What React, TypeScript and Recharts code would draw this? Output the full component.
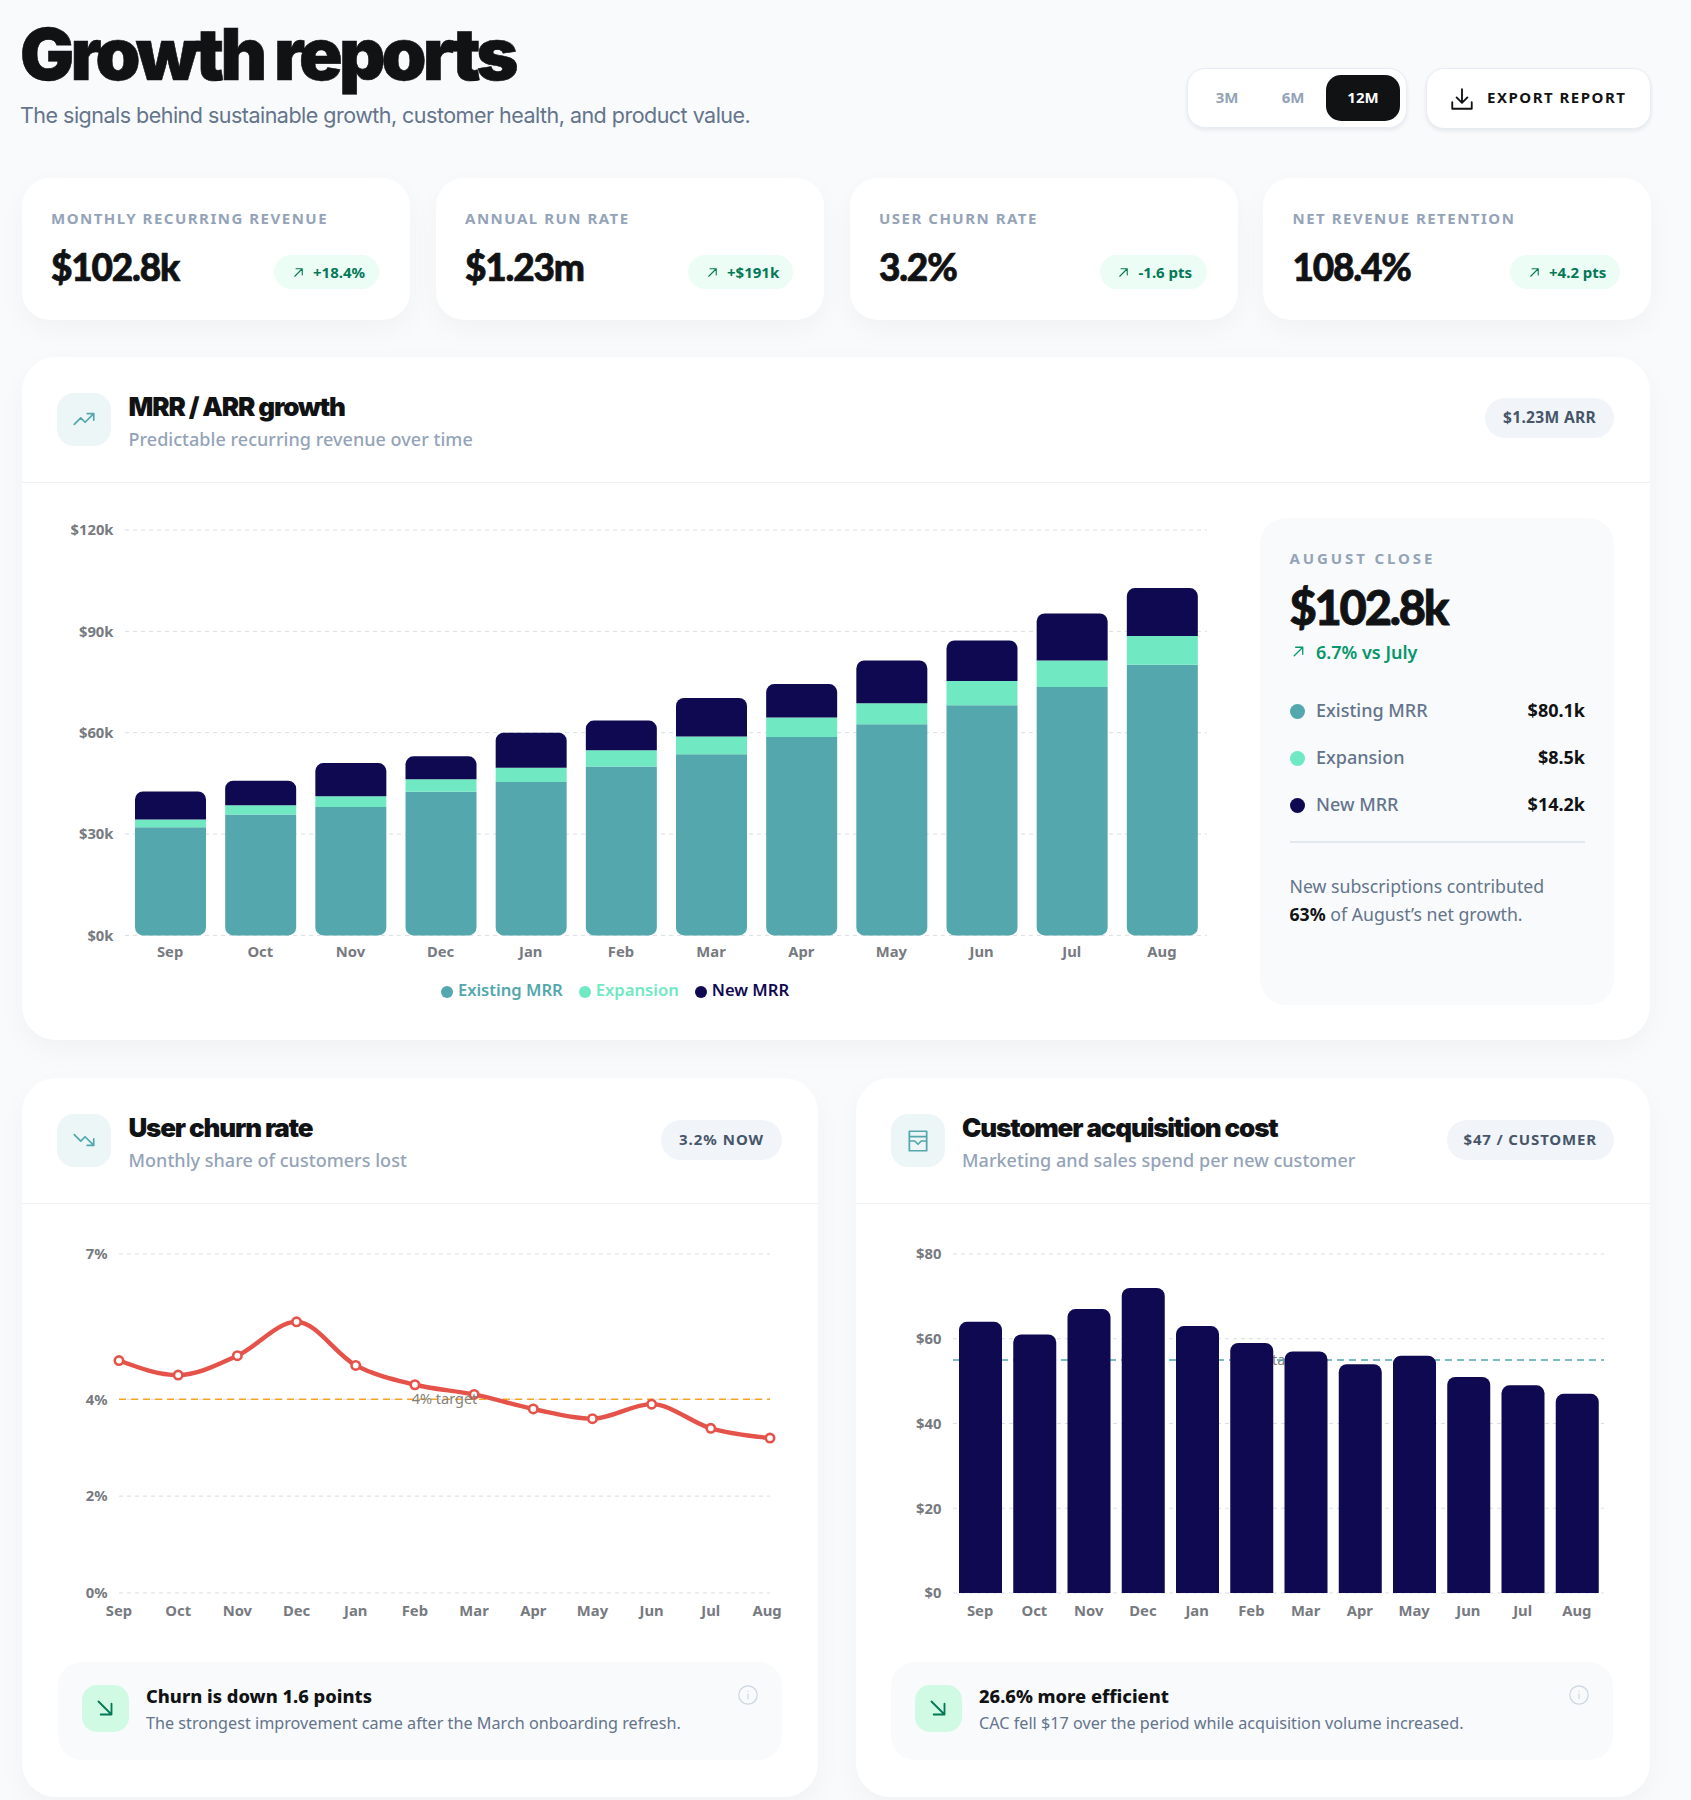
import React from 'react';
import { BarChart, Bar, LineChart, Line, XAxis, YAxis, CartesianGrid, Legend, ReferenceLine, Label } from 'recharts';

const months = ['Sep', 'Oct', 'Nov', 'Dec', 'Jan', 'Feb', 'Mar', 'Apr', 'May', 'Jun', 'Jul', 'Aug'];
const existingMrr = [32.0, 35.8, 38.0, 42.5, 45.4, 50.0, 53.6, 58.7, 62.5, 68.1, 73.5, 80.1];
const expansionMrr = [2.3, 2.7, 3.2, 3.7, 4.2, 4.8, 5.3, 5.8, 6.2, 7.2, 7.9, 8.5];
const newMrr = [8.3, 7.3, 9.8, 6.8, 10.4, 8.8, 11.4, 9.9, 12.7, 12.0, 13.9, 14.2];
const churnRate = [4.8, 4.5, 4.9, 5.6, 4.7, 4.3, 4.1, 3.8, 3.6, 3.9, 3.4, 3.2];
const cacValues = [64, 61, 67, 72, 63, 59, 57, 54, 56, 51, 49, 47];
const mrrTicks = [0, 30, 60, 90, 120];
const churnTicks = [0, 2, 4, 7];
const cacTicks = [0, 20, 40, 60, 80];

const mrrData = months.map((m, i) => ({ month: m, existing: existingMrr[i], expansion: expansionMrr[i], added: newMrr[i] }));
const churnData = months.map((m, i) => ({ month: m, churn: churnRate[i] }));
const cacData = months.map((m, i) => ({ month: m, cac: cacValues[i] }));

const BODY = '"Noto Sans", sans-serif';
const HEAD = 'Inter, sans-serif';
const NUM = 'Lato, sans-serif';
const TEAL = '#53a7ad';
const MINT = '#70e9c3';
const NAVY = '#0e0950';
const GRID = '#dadde3';
const tick = { fill: '#777a80', fontSize: 14.8, fontWeight: 700, fontFamily: BODY };

const ChurnMonthTick = ({ x, y, payload, index }: any) => (
  <text x={index === months.length - 1 ? x - 3 : x} y={y} dy="0.71em" textAnchor="middle" fill={tick.fill} fontSize={tick.fontSize} fontWeight={tick.fontWeight} fontFamily={BODY}>{payload.value}</text>
);

type TP = { x: number; y: number; s: number; c?: string; w?: number; f?: string; ls?: number; right?: boolean; center?: boolean; stroke?: number; children: React.ReactNode };
const T = ({ x, y, s, c = '#111214', w = 400, f = BODY, ls = 0, right, center, stroke, children }: TP) => (
  <div style={{
    position: 'absolute', top: y, left: right || center ? undefined : x, ...(right ? { right: 1691 - x } : {}), ...(center ? { left: x } : {}),
    transform: center ? 'translate(-50%,-50%)' : 'translateY(-50%)', whiteSpace: 'nowrap', fontSize: s, color: c, fontWeight: w, fontFamily: f, letterSpacing: ls, lineHeight: 1,
    ...(stroke ? { WebkitTextStroke: `${stroke}px ${c}` } : {}),
  }}>{children}</div>
);

const Box = ({ x, y, x2, y2, r, bg = '#fff', shadow, border, children }: any) => (
  <div style={{ position: 'absolute', left: x, top: y, width: x2 - x, height: y2 - y, borderRadius: r, background: bg, boxShadow: shadow, border, boxSizing: 'border-box' }}>{children}</div>
);

const Ico = ({ x, y, size, color, sw = 1.6, children }: any) => (
  <svg style={{ position: 'absolute', left: x - size / 2, top: y - size / 2 }} width={size} height={size} viewBox="0 0 24 24" fill="none" stroke={color} strokeWidth={sw} strokeLinecap="round" strokeLinejoin="round">{children}</svg>
);
const UpRight = (p: any) => <Ico {...p}><path d="M6 18 L18 6 M8 6 H18 V16" /></Ico>;
const DownRight = (p: any) => <Ico {...p}><path d="M6 6 L18 18 M18 8 V18 H8" /></Ico>;

const CARD_SHADOW = '0 10px 28px rgba(15,23,42,0.035)';

const kpis = [
  { x: 21.5, x2: 409.5, label: 'MONTHLY RECURRING REVENUE', value: '$102.8k', delta: '+18.4%', px: 274 },
  { x: 435.5, x2: 823.5, label: 'ANNUAL RUN RATE', value: '$1.23m', delta: '+$191k', px: 688 },
  { x: 849.5, x2: 1237.5, label: 'USER CHURN RATE', value: '3.2%', delta: '-1.6 pts', px: 1099.5 },
  { x: 1263, x2: 1650.5, label: 'NET REVENUE RETENTION', value: '108.4%', delta: '+4.2 pts', px: 1510 },
];
const breakdown = [
  { y: 710.5, color: TEAL, label: 'Existing MRR', value: '$80.1k' },
  { y: 757.5, color: MINT, label: 'Expansion', value: '$8.5k' },
  { y: 804.5, color: NAVY, label: 'New MRR', value: '$14.2k' },
];

const PanelHeader = ({ x, title, sub, pill, px, px2, icon, wide, pillSize = 15, pillLs = 1 }: any) => (
  <>
    <Box x={x} y={wide ? 393 : 1114} x2={x + 54} y2={wide ? 445.5 : 1167} r={17} bg="#ecf6f6" />
    {icon}
    <T x={x + 71.5} y={wide ? 407 : 1128} s={26} w={900} f={HEAD} ls={-1.15}>{title}</T>
    <T x={x + 71.5} y={wide ? 438.5 : 1160} s={18} c="#94a3b8" w={500} ls={0.03}>{sub}</T>
    <Box x={px} y={wide ? 398 : 1120} x2={px2} y2={wide ? 438 : 1160} r={20} bg="#f1f5f9" />
    <T x={(px + px2) / 2} y={wide ? 418 : 1138.5} s={pillSize} c="#475569" w={700} ls={pillLs} center>{pill}</T>
  </>
);

const Callout = ({ x, x2, title, sub }: any) => (
  <>
    <Box x={x} y={1662} x2={x2} y2={1759.5} r={24} bg="#f8fafc" />
    <Box x={x + 23.5} y={1685} x2={x + 70.5} y2={1732} r={15} bg="#d1fae5" />
    <DownRight x={x + 47} y={1708} size={26} color="#047857" sw={1.7} />
    <T x={x + 88} y={1696} s={18.3} w={800} c="#111214">{title}</T>
    <T x={x + 88} y={1723} s={16.2} c="#64748b">{sub}</T>
    <Ico x={x2 - 34} y={1695} size={22} color="#cbd5e1" sw={1.3}><circle cx="12" cy="12" r="10" /><path d="M12 11 V16 M12 8 V8.2" /></Ico>
  </>
);

export default function App() {
  return (
    <div style={{ position: 'absolute', left: 0, top: 0, width: 1691, height: 1800, background: '#f8fafc', overflow: 'hidden', fontFamily: BODY }}>
      <T x={20} y={54} s={72} w={900} f={HEAD} ls={-3.85} stroke={0.6}>Growth reports</T>
      <T x={20} y={116} s={21.5} c="#64748b" w={400} f={HEAD} ls={-0.52}>The signals behind sustainable growth, customer health, and product value.</T>

      <Box x={1187} y={68} x2={1407} y2={128} r={18} shadow="0 2px 4px rgba(15,23,42,.08)" border="1px solid #e8edf3" />
      <Box x={1326} y={75} x2={1400} y2={121} r={15} bg="#111214" />
      <T x={1227} y={97} s={15} c="#94a3b8" w={700} center>3M</T>
      <T x={1293} y={97} s={15} c="#94a3b8" w={700} center>6M</T>
      <T x={1363} y={97} s={15} c="#ffffff" w={700} center>12M</T>
      <Box x={1426} y={68} x2={1651} y2={129} r={18} shadow="0 2px 4px rgba(15,23,42,.08)" border="1px solid #e8edf3" />
      <Ico x={1462} y={99} size={26} color="#111214" sw={1.7}><path d="M12 3 V15 M7 10.5 L12 15.5 L17 10.5 M3 15 V21 H21 V15" /></Ico>
      <T x={1487} y={97} s={15} c="#111214" w={700} ls={1.5}>EXPORT REPORT</T>

      {kpis.map((k) => (
        <React.Fragment key={k.label}>
          <Box x={k.x} y={178} x2={k.x2} y2={319.5} r={28} shadow={CARD_SHADOW} />
          <T x={k.x + 29.5} y={218} s={15} c="#94a3b8" w={700} ls={1.5}>{k.label}</T>
          <T x={k.x + 29.5} y={266} s={37} w={900} f={NUM} ls={-1.2} stroke={0.7}>{k.value}</T>
          <Box x={k.px} y={255} x2={k.x2 - 31} y2={289} r={17} bg="#ecfdf5" />
          <UpRight x={k.px + 24} y={272} size={15} color="#047857" sw={1.7} />
          <T x={k.px + 39} y={272} s={15} c="#047857" w={700}>{k.delta}</T>
        </React.Fragment>
      ))}

      <Box x={21.5} y={357} x2={1650} y2={1040} r={34} shadow={CARD_SHADOW} />
      <div style={{ position: 'absolute', left: 22, top: 482, width: 1628, height: 1, background: '#eef1f5' }} />
      <PanelHeader wide x={57} title="MRR / ARR growth" sub="Predictable recurring revenue over time" pill="$1.23M ARR" px={1485} px2={1614} pillSize={15.6} pillLs={0.3}
        icon={<Ico x={84} y={419} size={26} color={TEAL}><path d="M3 17 L9 11 L13 15 L21 7 M15 7 H21 V13" /></Ico>} />

      <div style={{ position: 'absolute', left: 39, top: 510 }}>
        <BarChart width={1181} height={491.4} data={mrrData} margin={{ top: 20, right: 13, bottom: 0, left: 0 }} barSize={71}>
          <CartesianGrid vertical={false} stroke={GRID} strokeDasharray="4 4" />
          <XAxis dataKey="month" axisLine={false} tickLine={false} tick={tick} tickMargin={5.5} height={30} interval={0} />
          <YAxis width={86} domain={[0, 120]} ticks={mrrTicks} tickFormatter={(v: number) => `$${v}k`} axisLine={false} tickLine={false} tick={tick} tickMargin={5.5} />
          <Legend verticalAlign="bottom" iconType="circle" iconSize={12} formatter={(v: string) => <span style={{ marginLeft: 1, marginRight: 6 }}>{v}</span>} wrapperStyle={{ fontSize: 16.6, fontWeight: 600, fontFamily: BODY, paddingTop: 13 }} />
          <Bar dataKey="existing" name="Existing MRR" stackId="m" fill={TEAL} radius={[0, 0, 8, 8]} isAnimationActive={false} />
          <Bar dataKey="expansion" name="Expansion" stackId="m" fill={MINT} isAnimationActive={false} />
          <Bar dataKey="added" name="New MRR" stackId="m" fill={NAVY} radius={[8, 8, 0, 0]} isAnimationActive={false} />
        </BarChart>
      </div>

      <Box x={1260} y={518} x2={1613.5} y2={1005} r={26} bg="#f8fafc" />
      <T x={1289.5} y={557.5} s={15} c="#94a3b8" w={700} ls={2.9}>AUGUST CLOSE</T>
      <T x={1289.5} y={607} s={47} w={900} f={NUM} ls={-2.2} stroke={0.8}>$102.8k</T>
      <UpRight x={1298.5} y={651.5} size={17} color="#059669" sw={1.8} />
      <T x={1316} y={651.5} s={18} c="#059669" w={600}>6.7% vs July</T>
      {breakdown.map((b) => (
        <React.Fragment key={b.label}>
          <div style={{ position: 'absolute', left: 1290, top: b.y - 7, width: 15, height: 15, borderRadius: 8, background: b.color }} />
          <T x={1316} y={b.y - 0.5} s={18} c="#64748b" w={500}>{b.label}</T>
          <T x={1585} y={b.y - 0.5} s={18} w={700} right>{b.value}</T>
        </React.Fragment>
      ))}
      <div style={{ position: 'absolute', left: 1290, top: 841, width: 295, height: 1.5, background: '#e2e8f0' }} />
      <T x={1289.5} y={886.5} s={17.7} c="#64748b">New subscriptions contributed</T>
      <T x={1289.5} y={914.5} s={17.7} c="#64748b"><b style={{ color: '#111214' }}>63%</b> of August’s net growth.</T>

      <Box x={21.5} y={1078} x2={818} y2={1796.5} r={34} shadow={CARD_SHADOW} />
      <div style={{ position: 'absolute', left: 22, top: 1203, width: 795.5, height: 1, background: '#eef1f5' }} />
      <PanelHeader x={57} title="User churn rate" sub="Monthly share of customers lost" pill="3.2% NOW" px={661} px2={782}
        icon={<Ico x={84} y={1140} size={26} color={TEAL}><path d="M3 7 L9 13 L13 9 L21 17 M15 17 H21 V11" /></Ico>} />
      <div style={{ position: 'absolute', left: 40, top: 1234 }}>
        <LineChart width={760} height={389} data={churnData} margin={{ top: 20, right: 30, bottom: 0, left: 0 }}>
          <CartesianGrid vertical={false} stroke={GRID} strokeDasharray="4 4" />
          <XAxis dataKey="month" axisLine={false} tickLine={false} tick={ChurnMonthTick} tickMargin={6} height={30} interval={0} />
          <YAxis width={79} domain={[0, 7]} ticks={churnTicks} tickFormatter={(v: number) => `${v}%`} axisLine={false} tickLine={false} tick={tick} tickMargin={5.5} />
          <ReferenceLine y={4} stroke="#f5a524" strokeWidth={1.6} strokeDasharray="7 5" label={{ value: '4% target', position: 'center', fill: '#85817a', fontSize: 14.5, fontFamily: BODY }} />
          <Line type="monotone" dataKey="churn" stroke="#e5524a" strokeWidth={4.4} dot={{ r: 4.2, fill: '#fff', stroke: '#e5524a', strokeWidth: 2.6 }} isAnimationActive={false} />
        </LineChart>
      </div>
      <Callout x={58} x2={782} title="Churn is down 1.6 points" sub="The strongest improvement came after the March onboarding refresh." />

      <Box x={855.5} y={1078} x2={1650} y2={1796.5} r={34} shadow={CARD_SHADOW} />
      <div style={{ position: 'absolute', left: 856, top: 1203, width: 794, height: 1, background: '#eef1f5' }} />
      <PanelHeader x={890.5} title="Customer acquisition cost" sub="Marketing and sales spend per new customer" pill="$47 / CUSTOMER" px={1446.5} px2={1614} pillLs={0.85}
        icon={<Ico x={917.5} y={1141} size={26} color={TEAL}><path d="M4 3 H20 V21 H4 Z M4 8 H20 M4 12 H9 L12 15 L15 12 H20" /></Ico>} />
      <div style={{ position: 'absolute', left: 869, top: 1234 }}>
        <BarChart width={761} height={389} data={cacData} margin={{ top: 20, right: 26, bottom: 0, left: 0 }} barSize={43}>
          <CartesianGrid vertical={false} stroke={GRID} strokeDasharray="4 4" />
          <XAxis dataKey="month" axisLine={false} tickLine={false} tick={tick} tickMargin={6} height={30} interval={0} />
          <YAxis width={84} domain={[0, 80]} ticks={cacTicks} tickFormatter={(v: number) => `$${v}`} axisLine={false} tickLine={false} tick={tick} tickMargin={5.5} />
          <ReferenceLine y={55} zIndex={100} stroke={TEAL} strokeWidth={1.6} strokeDasharray="7 5">
            <Label value="$55 target" position="center" fill="#85817a" fontSize={14.5} fontFamily={BODY} zIndex={100} />
          </ReferenceLine>
          <Bar dataKey="cac" name="CAC" fill={NAVY} radius={[8, 8, 0, 0]} isAnimationActive={false} />
        </BarChart>
      </div>
      <Callout x={891} x2={1613} title="26.6% more efficient" sub="CAC fell $17 over the period while acquisition volume increased." />
    </div>
  );
}
